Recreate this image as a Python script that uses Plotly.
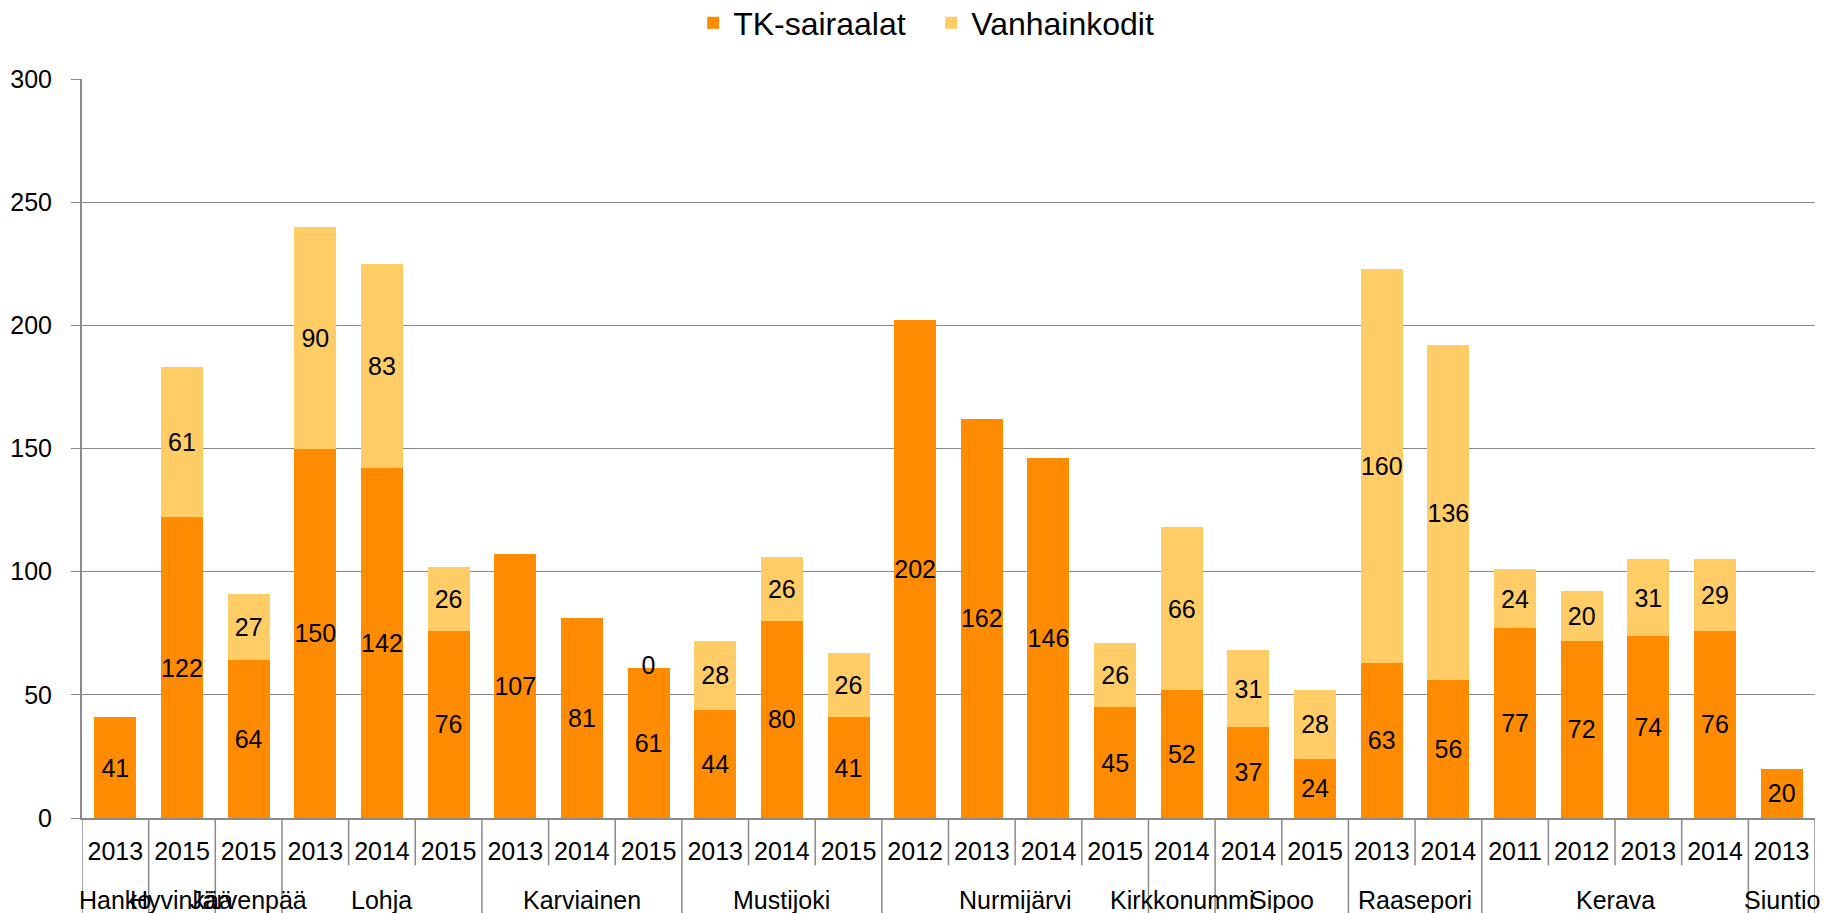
import plotly.graph_objects as go

# Municipality and year for each bar, in display order
municipalities = ["Hanko", "Hyvinkää", "Järvenpää",
                  "Lohja", "Lohja", "Lohja",
                  "Karviainen", "Karviainen", "Karviainen",
                  "Mustijoki", "Mustijoki", "Mustijoki",
                  "Nurmijärvi", "Nurmijärvi", "Nurmijärvi", "Nurmijärvi",
                  "Kirkkonummi",
                  "Sipoo", "Sipoo",
                  "Raasepori", "Raasepori",
                  "Kerava", "Kerava", "Kerava", "Kerava",
                  "Siuntio"]
years = ["2013", "2015", "2015",
         "2013", "2014", "2015",
         "2013", "2014", "2015",
         "2013", "2014", "2015",
         "2012", "2013", "2014", "2015",
         "2014",
         "2014", "2015",
         "2013", "2014",
         "2011", "2012", "2013", "2014",
         "2013"]

tk_sairaalat = [41, 122, 64, 150, 142, 76, 107, 81, 61, 44, 80, 41,
                202, 162, 146, 45, 52, 37, 24, 63, 56, 77, 72, 74, 76, 20]
vanhainkodit = [None, 61, 27, 90, 83, 26, None, None, 0, 28, 26, 26,
                None, None, None, 26, 66, 31, 28, 160, 136, 24, 20, 31, 29, None]

y_ticks = [0, 50, 100, 150, 200, 250, 300]

FONT = "Liberation Sans, Arial, sans-serif"
GRID = "#8a8a8a"
ORANGE = "#FF8C00"
LIGHT = "#FFCC66"
LABEL_SIZE = 25

keys = [f"{m}|{y}" for m, y in zip(municipalities, years)]


def labels(values):
    return ["" if v is None else str(v) for v in values]


fig = go.Figure()
for name, vals, color in [("TK-sairaalat", tk_sairaalat, ORANGE),
                          ("Vanhainkodit", vanhainkodit, LIGHT)]:
    fig.add_trace(go.Bar(
        x=keys, y=vals, name=name, marker=dict(color=color, line=dict(width=0)),
        text=labels(vals), textposition="inside", insidetextanchor="middle",
        constraintext="none", textangle=0, cliponaxis=False,
        textfont=dict(family=FONT, size=LABEL_SIZE, color="#000000"),
        hoverinfo="name+y",
    ))

# Zero-height segments have no bar body, so their value label is placed at the stack top
zx, zy, zt = [], [], []
for k, base, v in zip(keys, tk_sairaalat, vanhainkodit):
    if v == 0:
        zx.append(k)
        zy.append(base + v)
        zt.append(str(v))
fig.add_trace(go.Scatter(
    x=zx, y=zy, text=zt, mode="text", textposition="middle center",
    textfont=dict(family=FONT, size=LABEL_SIZE, color="#000000"),
    showlegend=False, hoverinfo="skip", cliponaxis=False,
))

# Category separators below the axis: short between years, tall between municipalities
n = len(keys)
shapes = []
for i in range(n + 1):
    tall = i == 0 or i == n or municipalities[i] != municipalities[i - 1]
    shapes.append(dict(type="line", xref="x", yref="paper",
                       x0=i - 0.5, x1=i - 0.5, y0=0, y1=-0.13 if tall else -0.064,
                       line=dict(color=GRID, width=1.5)))

# Municipality names centred under their group of years
annotations = []
start = 0
for i in range(1, n + 1):
    if i == n or municipalities[i] != municipalities[start]:
        annotations.append(dict(x=(start + i - 1) / 2, y=-0.111, xref="x", yref="paper",
                                text=municipalities[start], showarrow=False,
                                xanchor="center", yanchor="middle",
                                font=dict(family=FONT, size=25, color="#000000")))
        start = i

fig.update_layout(
    width=1834, height=913,
    margin=dict(l=82, r=19, t=79, b=95, autoexpand=False),
    paper_bgcolor="white", plot_bgcolor="white",
    barmode="stack", bargap=0.37,
    font=dict(family=FONT, size=24, color="#000000"),
    legend=dict(orientation="h", x=0.49, xanchor="center",
                yref="container", y=0.975, yanchor="middle",
                font=dict(family=FONT, size=32, color="#000000"),
                itemwidth=30, entrywidth=193, traceorder="normal"),
    shapes=shapes, annotations=annotations,
    showlegend=True,
)
fig.update_xaxes(
    type="category", range=[-0.5, n - 0.5],
    tickmode="array", tickvals=keys, ticktext=years,
    ticks="", showgrid=False, showline=True, linecolor=GRID, linewidth=2,
    tickfont=dict(family=FONT, size=25, color="#000000"),
    ticklabelstandoff=10,
)
fig.update_yaxes(
    range=[0, 300], tickvals=y_ticks, showgrid=True, gridcolor=GRID, gridwidth=1,
    showline=True, linecolor=GRID, linewidth=2, ticks="outside", ticklen=9,
    tickcolor=GRID, zeroline=False,
    tickfont=dict(family=FONT, size=25, color="#000000"),
    ticklabelstandoff=14,
)

fig.write_html("out.html")
